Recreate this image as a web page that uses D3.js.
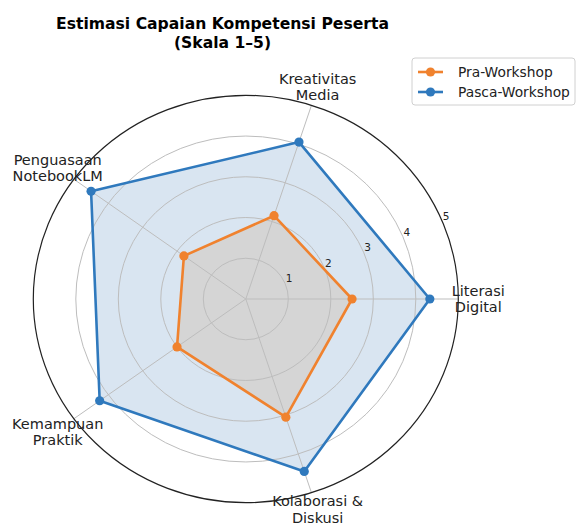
<!DOCTYPE html>
<html>
<head>
<meta charset="utf-8" />
<style>
body { margin: 0; background: white; }
svg { display: block; font-family: "DejaVu Sans", sans-serif; }
</style>
<script src="https://cdnjs.cloudflare.com/ajax/libs/d3/7.8.5/d3.min.js"></script>
</head>
<body>
<div id="chart"></div>
<script>
// data
const categories = [["Literasi", "Digital"], ["Kreativitas", "Media"], ["Penguasaan", "NotebookLM"], ["Kemampuan", "Praktik"], ["Kolaborasi &", "Diskusi"]];
const praValues = [2.5, 2.15, 1.8, 2.0, 3.05];
const pascaValues = [4.33, 4.05, 4.5, 4.25, 4.45];
const rTicks = [1, 2, 3, 4, 5];
const seriesNames = ["Pra-Workshop", "Pasca-Workshop"];

const W = 577, H = 527;
const cx = 245.8, cy = 299;
const orange = "#f0822e", blue = "#2f79bd";

// the picture is a little squashed vertically, so two radial scales
const rx = d3.scaleLinear().domain([0, 5]).range([0, 212.5]);
const ry = d3.scaleLinear().domain([0, 5]).range([0, 203.7]);
const angle = d3.scaleLinear().domain([0, categories.length]).range([0, 2 * Math.PI]);

function pt(v, a) {
  return [cx + rx(v) * Math.cos(a), cy - ry(v) * Math.sin(a)];
}

const svg = d3.select("#chart").append("svg")
  .attr("width", W).attr("height", H);

const line = d3.line().curve(d3.curveLinearClosed);
const polyPts = vals => vals.map((v, i) => pt(v, angle(i)));

// fills
svg.append("path").attr("d", line(polyPts(pascaValues)))
  .attr("fill", "#d9e5f1");
svg.append("path").attr("d", line(polyPts(praValues)))
  .attr("fill", "#d5d5d5");

// grid circles
svg.selectAll(".grid").data(rTicks.slice(0, -1)).enter().append("ellipse")
  .attr("cx", cx).attr("cy", cy)
  .attr("rx", d => rx(d)).attr("ry", d => ry(d))
  .attr("fill", "none").attr("stroke", "#bdbdbd").attr("stroke-width", 1);

// spokes
svg.selectAll(".spoke").data(categories).enter().append("line")
  .attr("x1", cx).attr("y1", cy)
  .attr("x2", (d, i) => pt(5, angle(i))[0])
  .attr("y2", (d, i) => pt(5, angle(i))[1])
  .attr("stroke", "#bdbdbd").attr("stroke-width", 1);

// outer spine
svg.append("ellipse")
  .attr("cx", cx).attr("cy", cy).attr("rx", rx(5)).attr("ry", ry(5))
  .attr("fill", "none").attr("stroke", "#222").attr("stroke-width", 1.2);

// radial tick labels at 22.5 deg
const tickA = 22.5 * Math.PI / 180;
svg.selectAll(".rtick").data(rTicks).enter().append("text")
  .attr("x", d => pt(d, tickA)[0] + 4)
  .attr("y", d => pt(d, tickA)[1] - 5)
  .attr("text-anchor", "middle").attr("dominant-baseline", "central")
  .attr("font-size", "10.5px").attr("fill", "#222")
  .text(d => d);

// category labels
categories.forEach((c, i) => {
  const a = angle(i);
  const p = pt(5.47, a);
  // lower-left label sits a bit further out; bottom one must stay inside the page
  const dy = Math.sin(a) < -0.9 ? -1.5 : (Math.sin(a) < -0.1 ? 2 : 0);
  const t = svg.append("text").attr("text-anchor", "middle")
    .attr("font-size", "14.5px").attr("fill", "#222");
  c.forEach((s, j) => {
    t.append("tspan").attr("x", p[0])
      .attr("y", p[1] + dy + (j - (c.length - 1) / 2) * 16.5)
      .attr("dominant-baseline", "central").text(s);
  });
});

// series lines and markers
[[praValues, orange], [pascaValues, blue]].forEach(([vals, col]) => {
  svg.append("path").attr("d", line(polyPts(vals)))
    .attr("fill", "none").attr("stroke", col).attr("stroke-width", 2.6)
    .attr("stroke-linejoin", "round");
  svg.selectAll(null).data(vals).enter().append("circle")
    .attr("cx", (d, i) => pt(d, angle(i))[0])
    .attr("cy", (d, i) => pt(d, angle(i))[1])
    .attr("r", 4.6).attr("fill", col);
});

// title
svg.append("text").attr("x", 222.5).attr("y", 29)
  .attr("text-anchor", "middle").attr("font-size", "15.6px").attr("font-weight", "bold")
  .text("Estimasi Capaian Kompetensi Peserta");
svg.append("text").attr("x", 222.5).attr("y", 48)
  .attr("text-anchor", "middle").attr("font-size", "15.6px").attr("font-weight", "bold")
  .text("(Skala 1–5)");

// legend
const lg = svg.append("g");
lg.append("rect").attr("x", 412).attr("y", 58).attr("width", 163).attr("height", 47)
  .attr("rx", 3).attr("fill", "white").attr("fill-opacity", 0.8)
  .attr("stroke", "#d0d0d0");
[orange, blue].forEach((col, i) => {
  const y = 72 + i * 20;
  lg.append("line").attr("x1", 418).attr("x2", 443).attr("y1", y).attr("y2", y)
    .attr("stroke", col).attr("stroke-width", 2.6);
  lg.append("circle").attr("cx", 430.5).attr("cy", y).attr("r", 4.6).attr("fill", col);
  lg.append("text").attr("x", 458).attr("y", y).attr("dominant-baseline", "central")
    .attr("font-size", "13.8px").attr("fill", "#222").text(seriesNames[i]);
});
</script>
</body>
</html>
